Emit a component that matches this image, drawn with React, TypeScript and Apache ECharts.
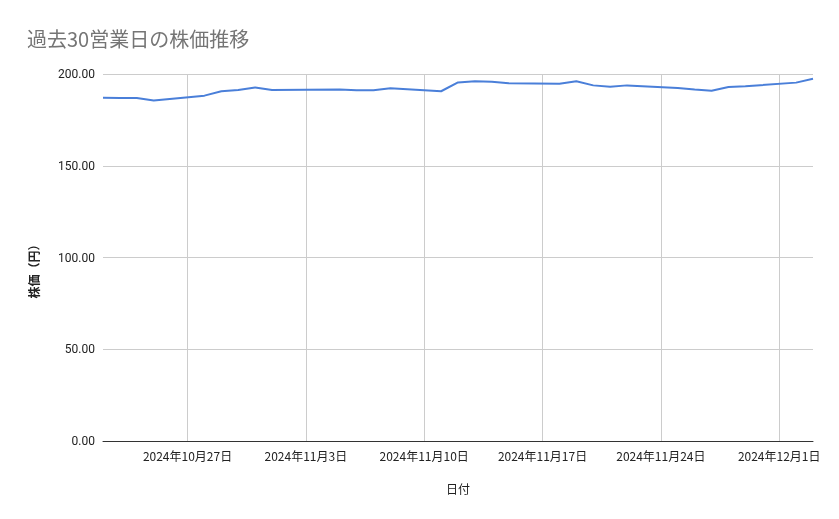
import { useEffect, useRef } from "react"
import * as echarts from "echarts"

const dates = [
  "2024-10-22", "2024-10-23", "2024-10-24", "2024-10-25",
  "2024-10-28", "2024-10-29", "2024-10-30", "2024-10-31", "2024-11-01",
  "2024-11-05", "2024-11-06", "2024-11-07", "2024-11-08",
  "2024-11-11", "2024-11-12", "2024-11-13", "2024-11-14", "2024-11-15",
  "2024-11-18", "2024-11-19", "2024-11-20", "2024-11-21", "2024-11-22",
  "2024-11-25", "2024-11-26", "2024-11-27", "2024-11-28", "2024-11-29",
  "2024-12-02", "2024-12-03",
]

const prices = [
  187.1, 186.9, 186.9, 185.5,
  188.2, 190.6, 191.3, 192.7, 191.3,
  191.5, 191.1, 191.1, 192.2,
  190.6, 195.4, 196.0, 195.8, 194.9,
  194.7, 196.0, 193.8, 193.1, 193.8,
  192.4, 191.5, 190.9, 192.9, 193.3,
  195.3, 197.4,
]

const tickDates = ["2024-10-27", "2024-11-03", "2024-11-10", "2024-11-17", "2024-11-24", "2024-12-01"]

const yTicks = [0, 50, 100, 150, 200]

const toTime = (s: string) => {
  const [y, m, d] = s.split("-").map(Number)
  return new Date(y, m - 1, d).getTime()
}

export default function App() {
  const chartRef = useRef<HTMLDivElement>(null)

  useEffect(() => {
    if (!chartRef.current) return
    const chart = echarts.init(chartRef.current, undefined, { renderer: "svg" })
    const ticks = tickDates.map(toTime)

    const option: echarts.EChartsOption = {
      animation: false,
      title: {
        text: "過去30営業日の株価推移",
        left: 22,
        top: 23,
        textStyle: { fontFamily: "Noto Sans CJK JP", fontSize: 20, fontWeight: "normal", color: "#757575" },
      },
      grid: { left: 103, right: 26, top: 74, bottom: 78 },
      xAxis: {
        type: "value",
        min: toTime(dates[0]),
        max: toTime(dates[dates.length - 1]),
        name: "日付",
        nameLocation: "middle",
        nameGap: 41,
        nameTextStyle: { fontFamily: "Noto Sans CJK JP", fontSize: 12, color: "#222" },
        axisLine: { onZero: false, lineStyle: { color: "#333", width: 1 } },
        axisTick: { show: false, customValues: ticks },
        axisLabel: {
          customValues: ticks,
          fontFamily: "Noto Sans CJK JP",
          fontSize: 12,
          color: "#222",
          margin: 8,
          formatter: (v: number) => {
            const d = new Date(v)
            return `${d.getFullYear()}年${d.getMonth() + 1}月${d.getDate()}日`
          },
        },
        splitLine: { show: true, lineStyle: { color: "#cccccc" } },
      },
      yAxis: {
        type: "value",
        min: yTicks[0],
        max: yTicks[yTicks.length - 1],
        interval: 50,
        name: "株価（円）",
        nameLocation: "middle",
        nameGap: 64,
        nameRotate: 90,
        nameTextStyle: {
          fontFamily: "Noto Sans CJK JP",
          fontSize: 12,
          fontWeight: "bold",
          color: "#222",
          padding: [0, 22, 0, 0],
        },
        axisLine: { show: false },
        axisTick: { show: false },
        axisLabel: {
          fontFamily: "Roboto",
          fontSize: 12,
          color: "#222",
          margin: 8,
          formatter: (v: number) => v.toFixed(2),
        },
        splitLine: { lineStyle: { color: "#cccccc" } },
      },
      series: [
        {
          type: "line",
          data: dates.map((d, i) => [toTime(d), prices[i]]),
          symbol: "none",
          lineStyle: { width: 2, color: "#4a7fd9" },
          itemStyle: { color: "#4a7fd9" },
        },
      ],
    }

    chart.setOption(option)
    return () => chart.dispose()
  }, [])

  return <div ref={chartRef} style={{ position: "fixed", left: 0, top: 0, width: 839, height: 519 }} />
}
